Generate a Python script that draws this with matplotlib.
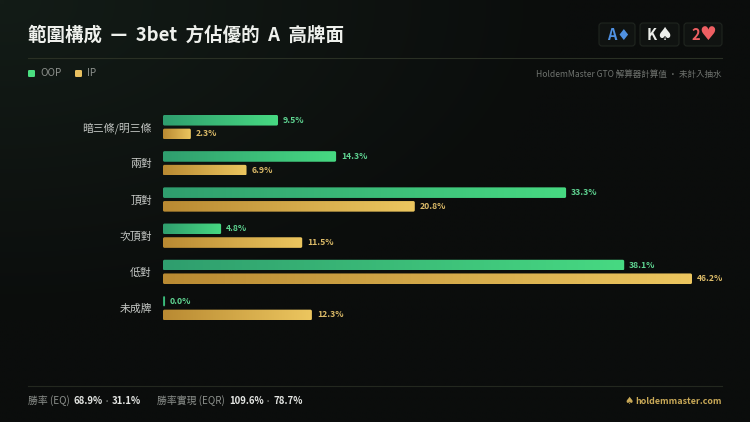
import numpy as np
import matplotlib
matplotlib.use('Agg')
import matplotlib.pyplot as plt
from matplotlib.colors import LinearSegmentedColormap
from matplotlib.patches import FancyBboxPatch

plt.rcParams['font.family'] = ['Noto Sans CJK TC', 'DejaVu Sans']

categories = ['暗三條/明三條', '兩對', '頂對', '次頂對', '低對', '未成牌']
oop_values = [9.5, 14.3, 33.3, 4.8, 38.1, 0.0]
ip_values = [2.3, 6.9, 20.8, 11.5, 46.2, 12.3]

W, H = 750, 422
AX_LEFT, AX_RIGHT = 163, 692
AX_TOP, AX_BOTTOM = 109.0, 345.0
ROW_STEP = 36.2
X_CAP = 43.7  # bars stop at the end of the track

GREEN = '#4ade80'
GOLD = '#e8c060'
green_cmap = LinearSegmentedColormap.from_list('g', ['#2f9e6e', '#47d982'])
gold_cmap = LinearSegmentedColormap.from_list('y', ['#b98a32', '#ecc65f'])

fig = plt.figure(figsize=(W / 100, H / 100), dpi=100)

# background and pixel-space overlay
bg = fig.add_axes([0, 0, 1, 1])
yy, xx = np.mgrid[0:1:60j, 0:1:100j]
glow = np.clip(1 - np.sqrt((xx / 0.75) ** 2 + (yy / 0.75) ** 2), 0, 1)
base = np.array([11, 13, 12]) / 255
tint = np.array([8, 15, 11]) / 255
bg.imshow(base + glow[..., None] * tint, extent=[0, W, H, 0], aspect='auto', zorder=0,
          interpolation='bilinear')
bg.set_xlim(0, W)
bg.set_ylim(H, 0)
bg.axis('off')

# chart
ax = fig.add_axes([AX_LEFT / W, 1 - AX_BOTTOM / H, (AX_RIGHT - AX_LEFT) / W, (AX_BOTTOM - AX_TOP) / H])
ax.patch.set_alpha(0)
ax.set_xlim(0, X_CAP)
ax.set_ylim((AX_BOTTOM - AX_TOP) / ROW_STEP - 0.5, -0.5)
for s in ax.spines.values():
    s.set_visible(False)
ax.set_xticks([])
ax.tick_params(axis='y', length=0, pad=8)
y = np.arange(len(categories))
ax.set_yticks(y, categories, color='#c6c9c6', fontsize=7.8)

offset = 6.85 / ROW_STEP
height = 10.6 / ROW_STEP


def draw_bars(values, shift, cmap, color):
    ylim = ax.get_ylim()
    for i, v in enumerate(values):
        shown = max(v, 0.17)
        ax.barh(i + shift, shown, height=height, color='none', edgecolor='none')
        end = min(shown, X_CAP)
        top = i + shift - height / 2
        bottom = i + shift + height / 2
        grad = np.linspace(0, 1, 128).reshape(1, -1)
        img = ax.imshow(grad, extent=[0, end, bottom, top], cmap=cmap, vmin=0, vmax=1,
                        aspect='auto', zorder=2)
        round_box = FancyBboxPatch((0, top), end, height, boxstyle='round,pad=0,rounding_size=0.13',
                                   mutation_aspect=0.33, transform=ax.transData,
                                   facecolor='none', edgecolor='none')
        ax.add_patch(round_box)
        img.set_clip_path(round_box)
        ax.text(end + 5 / 12.1, i + shift, f'{v:.1f}%', color=color, fontsize=6.2,
                fontweight='bold', va='center', ha='left', clip_on=False, zorder=3)
    ax.set_xlim(0, X_CAP)
    ax.set_ylim(ylim)


draw_bars(oop_values, -offset, green_cmap, '#5fd592')
draw_bars(ip_values, offset, gold_cmap, '#dcbb68')

# header
bg.text(28, 35, '範圍構成  —  3bet  方佔優的  A  高牌面', color='#eef0ec', fontsize=13.3,
        fontweight='bold', va='center', ha='left')
bg.plot([28, 722], [57.5, 57.5], color='#2a3024', lw=0.8)
bg.plot([28, 722], [385.5, 385.5], color='#23281f', lw=0.8)

# legend
bg.add_patch(FancyBboxPatch((28, 70), 7, 7, boxstyle='round,pad=0,rounding_size=1.2',
                            facecolor=GREEN, edgecolor='none'))
bg.text(40, 73.5, 'OOP', color='#8d918d', fontsize=7.2, va='center')
bg.add_patch(FancyBboxPatch((75, 70), 7, 7, boxstyle='round,pad=0,rounding_size=1.2',
                            facecolor=GOLD, edgecolor='none'))
bg.text(87, 73.5, 'IP', color='#8d918d', fontsize=7.2, va='center')
bg.text(722, 74, 'HoldemMaster GTO 解算器計算值 · 未計入抽水', color='#6f736f', fontsize=6.15,
        va='center', ha='right')

# board cards
card_boxes = [(599, 36), (640, 39), (684, 38)]
card_ranks = ['A', 'K', '2']
card_suits = ['♦', '♠', '♥']
card_colors = ['#4f90e0', '#eceeea', '#ee5f62']
rank_x = [612, 652, 696]
suit_x = [623, 664, 708]
suit_sizes = [11, 13, 13.5]
for (cx, cw), rank, suit, col, rx, sx, ss in zip(card_boxes, card_ranks, card_suits, card_colors,
                                                 rank_x, suit_x, suit_sizes):
    bg.add_patch(FancyBboxPatch((cx, 23), cw, 23, boxstyle='round,pad=0,rounding_size=3',
                                facecolor='#101311', edgecolor='#20251f', lw=0.8))
    bg.text(rx, 35, rank, color=col, fontsize=10.5, fontweight='bold', ha='center', va='center')
    bg.text(sx, 35, suit, color=col, fontsize=ss, ha='center', va='center', family=['DejaVu Sans'])

# footer
bg.text(28, 401, '勝率 (EQ)', color='#8d918d', fontsize=7.1, va='center')
bg.text(73.5, 401, '68.9%', color='#e4e6e3', fontsize=6.9, fontweight='bold', va='center')
bg.text(106.5, 401, '·', color='#6f736f', fontsize=6, va='center', ha='center')
bg.text(112, 401, '31.1%', color='#e4e6e3', fontsize=6.9, fontweight='bold', va='center')
bg.text(157, 401, '勝率實現 (EQR)', color='#8d918d', fontsize=7.1, va='center')
bg.text(229, 401, '109.6%', color='#e4e6e3', fontsize=6.9, fontweight='bold', va='center')
bg.text(267.5, 401, '·', color='#6f736f', fontsize=6, va='center', ha='center')
bg.text(273, 401, '78.7%', color='#e4e6e3', fontsize=6.9, fontweight='bold', va='center')
bg.text(722, 401, 'holdemmaster.com', color='#c9a957', fontsize=6.4, fontweight='bold', va='center', ha='right')
bg.text(629, 401, '♠', color='#c9a957', fontsize=7.5, va='center', ha='center', family=['DejaVu Sans'])

fig.savefig('out.png', dpi=100, facecolor='#0b0d0c')
